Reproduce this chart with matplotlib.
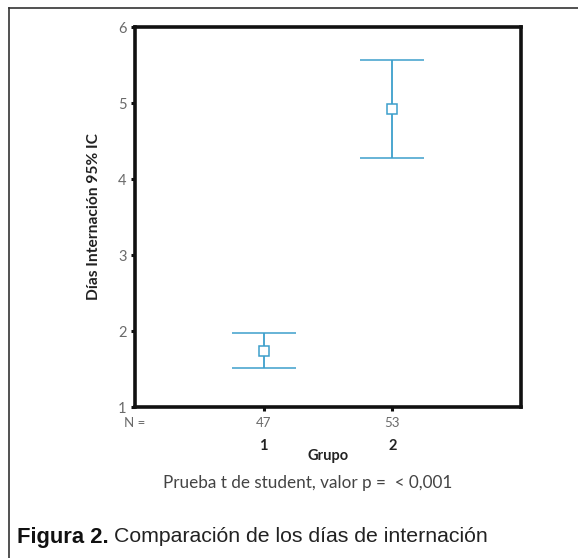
import numpy as np
import matplotlib
matplotlib.use('Agg')
import matplotlib.pyplot as plt
from matplotlib.lines import Line2D
import matplotlib.transforms as mtransforms

plt.rcParams['font.family'] = ['Lato', 'DejaVu Sans']

# data
groups = [1, 2]
group_labels = ['1', '2']
n_labels = ['47', '53']
means = np.array([1.74, 4.92])
ci_low = np.array([1.51, 4.28])
ci_high = np.array([1.98, 5.57])

blue = '#3d9fcb'
grey = '#6a6a6a'

fig = plt.figure(figsize=(5.78, 5.58), dpi=100)
ax = fig.add_axes([0.2336, 0.2706, 0.6678, 0.681])

yerr = np.vstack([means - ci_low, ci_high - means])
ax.errorbar(groups, means, yerr=yerr, fmt='s', color=blue, ecolor=blue,
            elinewidth=1.3, capsize=23, capthick=1.3,
            markersize=6.5, markerfacecolor='white', markeredgecolor=blue,
            markeredgewidth=1.1)

ax.set_xlim(0, 3)
ax.set_ylim(1, 6)
for s in ax.spines.values():
    s.set_linewidth(2.6)
    s.set_color('#111111')

ax.set_yticks([1, 2, 3, 4, 5, 6])
ax.tick_params(axis='y', direction='out', length=3, width=2.2, colors='#111111',
               labelcolor=grey, labelsize=10.5, pad=3)
ax.set_xticks(groups)
ax.set_xticklabels(n_labels)
ax.tick_params(axis='x', direction='out', length=3, width=2.2, colors='#111111',
               labelcolor=grey, labelsize=9.5, pad=4)

ax.set_ylabel('Días Internación 95% IC', fontsize=11.2, fontweight='bold',
              color='#222222', labelpad=12)

trans = mtransforms.blended_transform_factory(ax.transData, ax.transAxes)
ax.text(0, -0.042, 'N =', transform=trans, ha='center', va='center',
        fontsize=9.5, color=grey)
for g, lab in zip(groups, group_labels):
    ax.text(g, -0.103, lab, transform=trans, ha='center', va='center',
            fontsize=10.5, fontweight='bold', color='#222222')
ax.text(0.5, -0.128, 'Grupo', transform=ax.transAxes, ha='center', va='center',
        fontsize=10.5, fontweight='bold', color='#222222')

fig.text(308 / 578, 1 - 483 / 558, 'Prueba t de student, valor p =  < 0,001',
         ha='center', va='center', fontsize=12.3, color='#444444')

fig.text(17 / 578, 1 - 537 / 558, 'Figura 2.', ha='left', va='center',
         fontsize=15.8, fontweight='bold', color='#111111',
         family=['Liberation Sans', 'DejaVu Sans'])
fig.text(114 / 578, 1 - 537 / 558, 'Comparación de los días de internación',
         ha='left', va='center', fontsize=15.3, color='#222222',
         family=['Liberation Sans', 'DejaVu Sans'])

# outer frame (top and left edges)
fig.add_artist(Line2D([9 / 578, 1], [1 - 8 / 558, 1 - 8 / 558],
                      transform=fig.transFigure, color='#333333', lw=1.2))
fig.add_artist(Line2D([9 / 578, 9 / 578], [0, 1 - 8 / 558],
                      transform=fig.transFigure, color='#333333', lw=1.2))

fig.savefig('out.png', dpi=100)
